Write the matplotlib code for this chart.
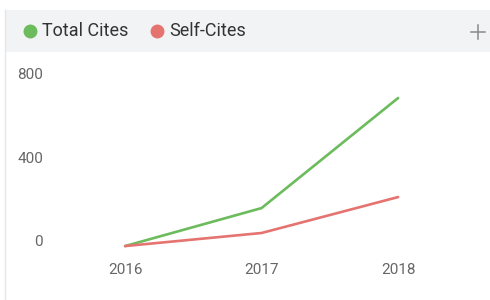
import matplotlib
matplotlib.use("Agg")
import matplotlib.pyplot as plt
import matplotlib.transforms as mtransforms
from matplotlib.patches import Rectangle
from matplotlib.lines import Line2D

plt.rcParams["font.family"] = ["Roboto", "DejaVu Sans"]

years = [2016, 2017, 2018]
total_cites = [0, 183, 713]
self_cites = [0, 63, 236]
series_labels = ["Total Cites", "Self-Cites"]
y_ticks = [0, 400, 800]

green = "#6cbb5c"
red = "#e57370"
text_gray = "#666666"

fig = plt.figure(figsize=(4.9, 3.0), dpi=100)
fig.patch.set_facecolor("white")

# header band with legend
fig.add_artist(Rectangle((5 / 490, 248 / 300), 485 / 490, 42 / 300,
                         transform=fig.transFigure, facecolor="#f2f3f5",
                         edgecolor="none", zorder=0))
fig.add_artist(Line2D([5 / 490, 5 / 490], [0, 290 / 300],
                      transform=fig.transFigure, color="#e6e6e6", lw=1))

ax = fig.add_axes([50 / 490, 0.15, 430 / 490, 0.65])
ax.plot(years, total_cites, color=green, lw=1.9, solid_capstyle="round")
ax.plot(years, self_cites, color=red, lw=1.9, solid_capstyle="round")

ax.set_xlim(2015.45, 2018.6)
ax.set_ylim(-43, 896)
ax.set_xticks(years)
ax.set_xticklabels([str(y) for y in years])
ax.set_yticks(y_ticks)
ax.tick_params(length=0, labelsize=11, colors=text_gray)
ax.tick_params(axis="y", pad=5)
ax.tick_params(axis="x", pad=6)
for s in ax.spines.values():
    s.set_visible(False)
ax.patch.set_alpha(0)

offset = mtransforms.ScaledTranslation(0, 6 / 100, fig.dpi_scale_trans)
for lab in ax.get_yticklabels():
    lab.set_transform(lab.get_transform() + offset)

# legend markers and text
for cx, col, lab in [(30, green, series_labels[0]), (157, red, series_labels[1])]:
    fig.add_artist(Line2D([cx / 490], [269 / 300], transform=fig.transFigure,
                          marker="o", markersize=9, color=col, lw=0))
    fig.text((cx + 12) / 490, 268.5 / 300, lab, fontsize=13,
             color="#333333", va="center", ha="left")

# plus icon
fig.add_artist(Line2D([471 / 490, 485 / 490], [268 / 300, 268 / 300],
                      transform=fig.transFigure, color="#8a8a8a", lw=1.1))
fig.add_artist(Line2D([478 / 490, 478 / 490], [261 / 300, 275 / 300],
                      transform=fig.transFigure, color="#8a8a8a", lw=1.1))

fig.savefig("out.png", dpi=100)
